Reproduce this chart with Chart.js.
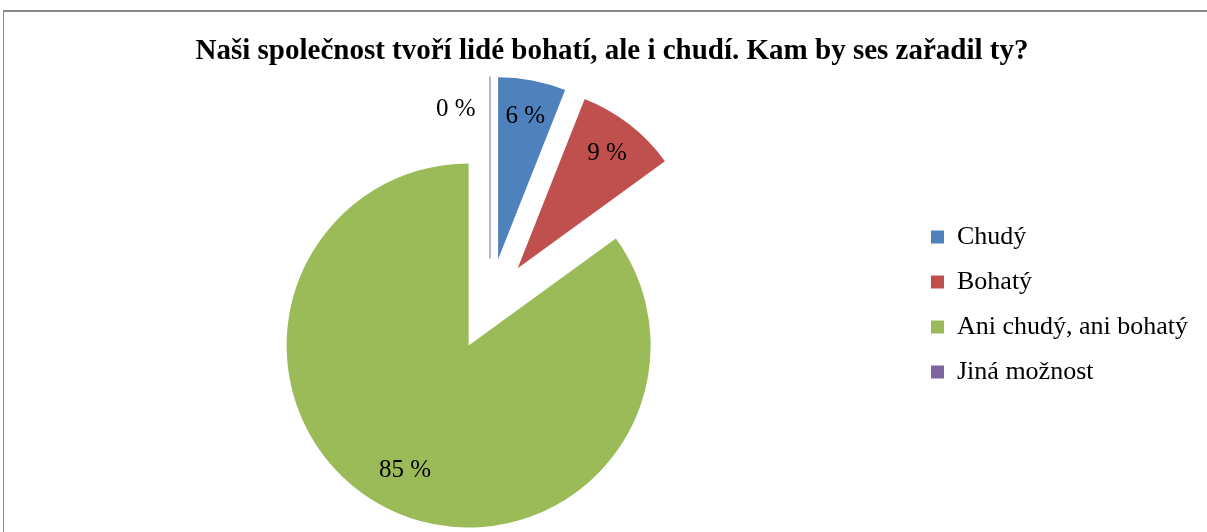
<!DOCTYPE html>
<html>
<head>
<meta charset="utf-8">
<script src="https://cdn.jsdelivr.net/npm/chart.js@4"></script>
<style>
  html, body { margin: 0; padding: 0; background: #ffffff; }
  #wrap { position: relative; width: 1207px; height: 532px; overflow: hidden; }
  #frame { position: absolute; left: 3px; top: 10px; width: 1300px; height: 700px;
           border-top: 2px solid #888888; border-left: 1px solid #888888; box-sizing: border-box; }
  #c { position: absolute; left: 0; top: 0; }
</style>
</head>
<body>
<div id="wrap">
  <div id="frame"></div>
  <canvas id="c" width="1207" height="532"></canvas>
</div>
<script>
const titleText = 'Naši společnost tvoří lidé bohatí, ale i chudí. Kam by ses zařadil ty?';
const categories = ['Chudý', 'Bohatý', 'Ani chudý, ani bohatý', 'Jiná možnost'];
const percentValues = [6, 9, 85, 0];
const sliceColors = ['#4F81BD', '#C0504D', '#9BBB59', '#8064A2'];

const EXPLODE = 46;
const FONT = "'Liberation Serif', 'Times New Roman', serif";
const LEGEND_FONT_SIZE = 26;
const LEGEND_BOX = 13;
const LEGEND_PAD = 19;
const LEGEND_LEFT = 912;
const PAD_LEFT = 67;
const TITLE_CENTER_X = 612;

Chart.defaults.font.family = FONT;
Chart.defaults.color = '#000000';

// size the right padding so the legend starts at LEGEND_LEFT
const mctx = document.createElement('canvas').getContext('2d');
mctx.font = LEGEND_FONT_SIZE + 'px ' + FONT;
const maxLabelW = Math.max(...categories.map(t => mctx.measureText(t).width));
const legendW = LEGEND_PAD + LEGEND_BOX + LEGEND_FONT_SIZE / 2 + maxLabelW + 10;
const PAD_RIGHT = Math.max(0, 1207 - LEGEND_LEFT - legendW);

const explodePlugin = {
  id: 'explodeSlices',
  afterLayout(chart) {
    const t = chart.titleBlock;
    if (t) {
      const dx = TITLE_CENTER_X - (t.left + t.right) / 2;
      t.left += dx; t.right += dx;
    }
  },
  afterDatasetsUpdate(chart) {
    const meta = chart.getDatasetMeta(0);
    meta.data.forEach((arc) => {
      const mid = (arc.startAngle + arc.endAngle) / 2;
      arc.x += Math.cos(mid) * EXPLODE;
      arc.y += Math.sin(mid) * EXPLODE;
    });
  }
};

const labelPlugin = {
  id: 'sliceLabels',
  afterDatasetsDraw(chart) {
    const ctx = chart.ctx;
    const meta = chart.getDatasetMeta(0);
    const data = chart.data.datasets[0].data;
    ctx.save();
    ctx.font = '25px ' + FONT;
    ctx.fillStyle = '#000000';
    ctx.textBaseline = 'middle';
    meta.data.forEach((arc, i) => {
      const mid = (arc.startAngle + arc.endAngle) / 2;
      const r = arc.outerRadius;
      const text = data[i] + ' %';
      if (arc.endAngle - arc.startAngle === 0) {
        ctx.save();
        ctx.strokeStyle = sliceColors[i];
        ctx.lineWidth = 1;
        ctx.beginPath();
        ctx.moveTo(arc.x + 0.5, arc.y);
        ctx.lineTo(arc.x + 0.5 + Math.cos(mid) * r, arc.y + Math.sin(mid) * r);
        ctx.stroke();
        ctx.restore();
        ctx.textAlign = 'right';
        ctx.fillText(text, arc.x - 14, arc.y + Math.sin(mid) * r * 0.82);
      } else {
        const f = arc.endAngle - arc.startAngle > Math.PI ? 0.77 : 0.8;
        ctx.textAlign = 'center';
        ctx.fillText(text, arc.x + Math.cos(mid) * r * f, arc.y + Math.sin(mid) * r * f);
      }
    });
    ctx.restore();
  }
};

new Chart(document.getElementById('c'), {
  type: 'pie',
  data: {
    labels: categories,
    datasets: [{
      data: percentValues,
      backgroundColor: sliceColors,
      borderWidth: 0,
      radius: 182
    }]
  },
  options: {
    responsive: false,
    animation: false,
    events: [],
    devicePixelRatio: 1,
    layout: { padding: { left: PAD_LEFT, right: PAD_RIGHT, top: 0, bottom: 10 } },
    plugins: {
      title: {
        display: true,
        text: titleText,
        font: { size: 29, weight: 'bold', family: FONT, lineHeight: 1.2 },
        color: '#000000',
        padding: { top: 33.7, bottom: 18.5 }
      },
      legend: {
        display: true,
        position: 'right',
        fullSize: false,
        labels: {
          boxWidth: LEGEND_BOX,
          boxHeight: LEGEND_BOX,
          padding: LEGEND_PAD,
          font: { size: LEGEND_FONT_SIZE, family: FONT },
          color: '#000000'
        }
      },
      tooltip: { enabled: false }
    }
  },
  plugins: [explodePlugin, labelPlugin]
});
</script>
</body>
</html>
